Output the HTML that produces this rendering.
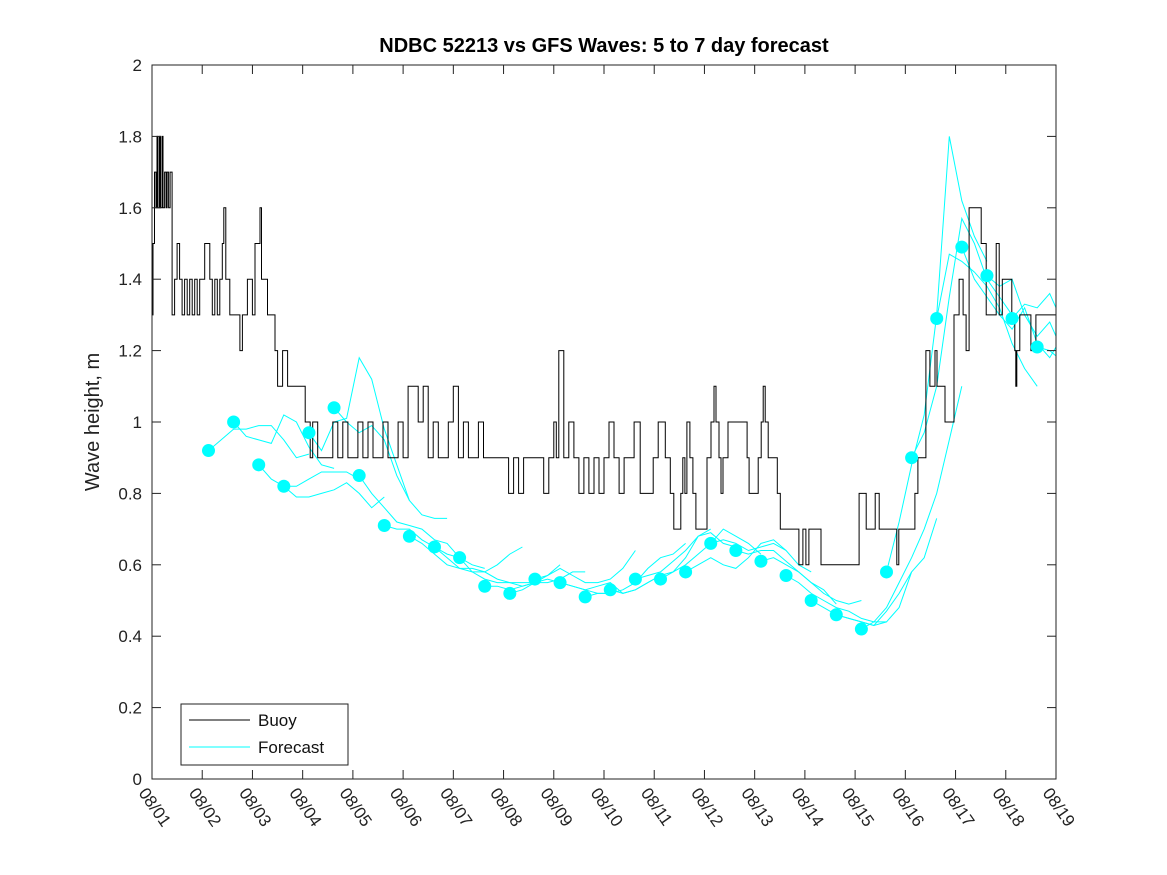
<!DOCTYPE html>
<html><head><meta charset="utf-8"><style>
html,body{margin:0;padding:0;background:#fff;}
svg{display:block;font-family:"Liberation Sans","DejaVu Sans",sans-serif;}
</style></head><body>
<svg id="chart" width="1167" height="875" viewBox="0 0 1167 875" xmlns="http://www.w3.org/2000/svg">
<defs><clipPath id="plotclip"><rect x="152" y="65" width="904" height="714"/></clipPath></defs>
<rect x="0" y="0" width="1167" height="875" fill="#fff"/>
<text x="604" y="52" text-anchor="middle" font-size="20" font-weight="bold" fill="#000">NDBC 52213 vs GFS Waves: 5 to 7 day forecast</text>
<text transform="translate(99,422) rotate(-90)" text-anchor="middle" font-size="20" fill="#222">Wave height, m</text>
<g id="series" clip-path="url(#plotclip)"></g>
<rect x="152" y="65" width="904" height="714" fill="none" stroke="#222" stroke-width="1"/>
<g id="axes"></g>
<g>
<rect x="181" y="704" width="167" height="61" fill="#fff" stroke="#222" stroke-width="1"/>
<line x1="189" y1="720" x2="250" y2="720" stroke="#000" stroke-width="1"/>
<text x="258" y="726" font-size="17" fill="#111">Buoy</text>
<line x1="189" y1="747" x2="250" y2="747" stroke="#00ffff" stroke-width="1"/>
<text x="258" y="753" font-size="17" fill="#111">Forecast</text>
</g>
</svg>
<script>
const xTickLabels = ["08/01","08/02","08/03","08/04","08/05","08/06","08/07","08/08","08/09","08/10","08/11","08/12","08/13","08/14","08/15","08/16","08/17","08/18","08/19"];
const yTicks = [0,0.2,0.4,0.6,0.8,1,1.2,1.4,1.6,1.8,2];
const yTickLabels = ["0","0.2","0.4","0.6","0.8","1","1.2","1.4","1.6","1.8","2"];
// buoy: step values, each value holds from its day until the next
const buoyDays = [0,0.02,0.05,0.08,0.1,0.12,0.15,0.17,0.2,0.22,0.25,0.28,0.3,0.33,0.36,0.4,0.45,0.5,0.55,0.6,0.65,0.7,0.75,0.8,0.85,0.9,0.95,1.0,1.05,1.1,1.15,1.2,1.25,1.3,1.35,1.4,1.43,1.47,1.55,1.6,1.7,1.75,1.8,1.9,2.0,2.05,2.1,2.15,2.18,2.22,2.3,2.45,2.5,2.6,2.7,2.8,3.0,3.05,3.1,3.15,3.2,3.3,3.4,3.5,3.6,3.7,3.8,3.9,4.0,4.1,4.2,4.3,4.4,4.5,4.6,4.7,4.8,4.9,5.0,5.1,5.2,5.3,5.4,5.5,5.6,5.7,5.8,5.9,6.0,6.1,6.2,6.3,6.4,6.5,6.6,6.7,6.8,6.9,7.0,7.1,7.2,7.3,7.4,7.5,7.6,7.7,7.8,7.9,8.0,8.05,8.1,8.2,8.3,8.4,8.5,8.6,8.7,8.8,8.9,9.0,9.1,9.2,9.3,9.4,9.5,9.6,
 9.72,9.98,10.08,10.22,10.32,10.39,10.53,10.57,10.61,10.65,10.71,10.77,10.83,11.05,11.13,11.19,11.23,11.29,11.33,11.37,11.47,11.85,11.89,12.07,12.13,12.17,12.21,12.27,12.45,12.51,12.88,12.96,13.02,13.08,13.32,14.08,14.22,14.40,14.48,14.83,14.87,15.19,15.25,15.41,15.49,15.59,15.63,15.79,15.97,16.07,16.15,16.21,16.27,16.51,16.61,16.81,16.87,16.93,17.12,17.18,17.20,17.22,17.28,17.5,17.6,18.0];
const buoyValues = [1.3,1.5,1.7,1.6,1.8,1.6,1.8,1.6,1.8,1.6,1.7,1.6,1.7,1.6,1.7,1.3,1.4,1.5,1.4,1.3,1.4,1.3,1.4,1.3,1.4,1.3,1.4,1.4,1.5,1.5,1.4,1.3,1.4,1.3,1.4,1.5,1.6,1.4,1.3,1.3,1.3,1.2,1.3,1.4,1.3,1.5,1.5,1.6,1.4,1.4,1.3,1.2,1.1,1.2,1.1,1.1,1.1,1.0,1.0,0.9,1.0,0.9,0.9,0.9,1.0,0.9,1.0,0.9,0.9,1.0,0.9,1.0,0.9,0.9,1.0,0.9,0.9,1.0,0.9,1.1,1.1,1.0,1.1,0.9,1.0,0.9,0.9,1.0,1.1,0.9,1.0,0.9,0.9,1.0,0.9,0.9,0.9,0.9,0.9,0.8,0.9,0.8,0.9,0.9,0.9,0.9,0.8,0.9,1.0,0.9,1.2,0.9,1.0,0.9,0.8,0.9,0.8,0.9,0.8,0.9,1.0,0.9,0.8,0.9,0.9,1.0,
 0.8,0.9,1.0,0.9,0.8,0.7,0.8,0.9,0.8,1.0,0.9,0.8,0.7,0.9,1.0,1.1,1.0,0.9,0.8,0.9,1.0,0.9,0.8,0.9,1.0,1.1,1.0,0.9,0.8,0.7,0.6,0.7,0.6,0.7,0.6,0.8,0.7,0.8,0.7,0.6,0.7,0.8,0.9,1.2,1.1,1.2,1.1,1.0,1.3,1.4,1.3,1.2,1.6,1.5,1.3,1.5,1.3,1.4,1.3,1.2,1.1,1.2,1.3,1.2,1.3,1.3];
// forecast segments: start day (= marker day), values every 0.25 day
const fcStarts = [1.125,1.625,2.125,2.625,3.125,3.625,4.125,4.625,5.125,5.625,6.125,6.625,7.125,7.625,8.125,8.625,9.125,9.625,10.125,10.625,11.125,11.625,12.125,12.625,13.125,13.625,14.125,14.625,15.125,15.625,16.125,16.625,17.125,17.625];
const fcValues = [
 [0.92,0.95,0.98,0.98,0.99,0.99,0.95,0.90,0.91],
 [1.0,0.96,0.95,0.94,1.02,1.0,0.93,0.88,0.87],
 [0.88,0.84,0.82,0.82,0.84,0.86,0.86,0.86,0.84],
 [0.82,0.79,0.79,0.80,0.81,0.83,0.80,0.76,0.79],
 [0.97,0.92,1.0,1.01,1.18,1.12,0.98,0.88,0.78],
 [1.04,1.0,0.97,0.99,0.95,0.85,0.78,0.74,0.73,0.73],
 [0.85,0.80,0.76,0.72,0.71,0.70,0.67,0.66,0.62],
 [0.71,0.70,0.70,0.67,0.65,0.63,0.62,0.60,0.59],
 [0.68,0.66,0.63,0.60,0.59,0.58,0.58,0.60,0.63,0.65],
 [0.65,0.62,0.59,0.59,0.58,0.56,0.55,0.55,0.55],
 [0.62,0.58,0.56,0.55,0.55,0.54,0.55,0.57,0.60],
 [0.54,0.54,0.53,0.54,0.55,0.55,0.56,0.58,0.58],
 [0.52,0.53,0.55,0.56,0.55,0.54,0.53,0.52,0.52],
 [0.56,0.57,0.59,0.57,0.55,0.55,0.56,0.59,0.64],
 [0.55,0.54,0.53,0.54,0.55,0.52,0.53,0.55,0.57],
 [0.51,0.52,0.52,0.53,0.55,0.59,0.62,0.63,0.66],
 [0.53,0.52,0.53,0.55,0.57,0.58,0.62,0.68,0.70],
 [0.56,0.57,0.58,0.61,0.64,0.68,0.69,0.66,0.65],
 [0.56,0.58,0.60,0.63,0.66,0.70,0.68,0.66,0.63],
 [0.58,0.60,0.62,0.60,0.59,0.62,0.66,0.67,0.64],
 [0.66,0.67,0.66,0.64,0.65,0.66,0.64,0.60,0.58],
 [0.64,0.63,0.64,0.64,0.61,0.58,0.55,0.53,0.49],
 [0.61,0.62,0.60,0.58,0.55,0.52,0.50,0.49,0.50],
 [0.57,0.55,0.52,0.50,0.48,0.47,0.45,0.44,0.44],
 [0.50,0.48,0.46,0.45,0.44,0.43,0.44,0.48,0.58],
 [0.46,0.45,0.44,0.43,0.47,0.52,0.58,0.62,0.73],
 [0.42,0.44,0.48,0.55,0.62,0.70,0.80,0.95,1.10],
 [0.58,0.72,0.88,1.02,1.30,1.80,1.62,1.52,1.45],
 [0.90,0.97,1.10,1.35,1.57,1.50,1.40,1.35,1.30],
 [1.29,1.47,1.45,1.42,1.38,1.32,1.22,1.15,1.10],
 [1.49,1.40,1.35,1.30,1.26,1.32,1.22,1.18,1.24],
 [1.41,1.38,1.40,1.30,1.24,1.28,1.20,1.26,1.22],
 [1.29,1.33,1.32,1.36,1.28,1.30,1.26],
 [1.21,1.20,1.17,1.15,1.15]
];
const markerDays = [1.125,1.625,2.125,2.625,3.125,3.625,4.125,4.625,5.125,5.625,6.125,6.625,7.125,7.625,8.125,8.625,9.125,9.625,10.125,10.625,11.125,11.625,12.125,12.625,13.125,13.625,14.125,14.625,15.125,15.625,16.125,16.625,17.125,17.625];
const markerValues = [0.92,1.0,0.88,0.82,0.97,1.04,0.85,0.71,0.68,0.65,0.62,0.54,0.52,0.56,0.55,0.51,0.53,0.56,0.56,0.58,0.66,0.64,0.61,0.57,0.50,0.46,0.42,0.58,0.90,1.29,1.49,1.41,1.29,1.21];

const X0=152,X1=1056,Y0=779,Y1=65;
function xs(d){return X0+(X1-X0)*d/18;}
function ys(v){return Y0-(Y0-Y1)*v/2;}
const NS="http://www.w3.org/2000/svg";
const axes=document.getElementById('axes');
const series=document.getElementById('series');
function mk(t,a,p){const e=document.createElementNS(NS,t);for(const k in a)e.setAttribute(k,a[k]);p.appendChild(e);return e;}

xTickLabels.forEach((lab,i)=>{
  const x=xs(i);
  const t1=mk('line',{x1:x,y1:Y0,x2:x,y2:Y0-9,stroke:'#222'},axes);
  
  
  const t2=mk('line',{x1:x,y1:Y1,x2:x,y2:Y1+9,stroke:'#222'},axes);
  
  
  const tx=mk('text',{transform:`translate(${x-14},${Y0+14}) rotate(55)`,'font-size':17,fill:'#222'},axes);
  tx.textContent=lab;
  
  
});
yTicks.forEach((v,i)=>{
  const y=ys(v);
  const t1=mk('line',{x1:X0,y1:y,x2:X0+9,y2:y,stroke:'#222'},axes);
  
  
  const t2=mk('line',{x1:X1,y1:y,x2:X1-9,y2:y,stroke:'#222'},axes);
  
  
  const tx=mk('text',{x:X0-10,y:y+6,'text-anchor':'end','font-size':17,fill:'#222'},axes);
  tx.textContent=yTickLabels[i];
  
  
});

fcValues.forEach((vals,si)=>{
  const pts=vals.map((v,i)=>xs(fcStarts[si]+0.25*i).toFixed(1)+','+ys(v).toFixed(1)).join(' ');
  const pl=mk('polyline',{points:pts,fill:'none',stroke:'#00ffff','stroke-width':1},series);
  
  
});
let bp=[];
buoyDays.forEach((d,i)=>{
  const x=xs(d).toFixed(1);
  if(i>0) bp.push(x+','+ys(buoyValues[i-1]).toFixed(1));
  bp.push(x+','+ys(buoyValues[i]).toFixed(1));
});
const bl=mk('polyline',{points:bp.join(' '),fill:'none',stroke:'#000','stroke-width':1},series);


markerDays.forEach((d,i)=>{
  const c=mk('circle',{cx:xs(d),cy:ys(markerValues[i]),r:6.5,fill:'#00ffff'},series);
  
  
});
</script>
</body></html>
